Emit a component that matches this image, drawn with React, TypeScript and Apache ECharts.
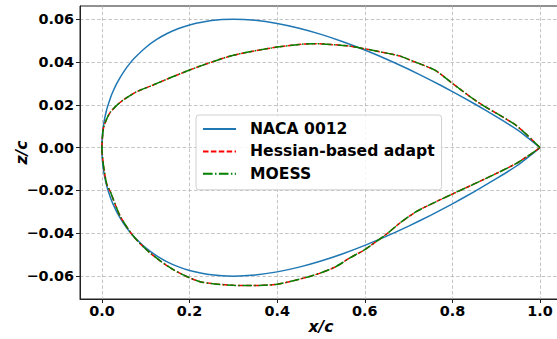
import React, { useEffect, useRef } from "react";
import * as echarts from "echarts";

// NACA 0012 half-thickness distribution (upper surface; lower is mirrored)
const nacaX = [0, 0.0001, 0.0005, 0.001, 0.0025, 0.005, 0.0075, 0.01, 0.0125, 0.02, 0.025, 0.035, 0.05, 0.0625, 0.075, 0.1, 0.125, 0.15, 0.175, 0.2, 0.25, 0.3, 0.35, 0.4, 0.45, 0.5, 0.55, 0.6, 0.65, 0.7, 0.75, 0.8, 0.85, 0.9, 0.95, 1.0];
const nacaZ = [0, 0.00178, 0.00395, 0.00556, 0.00872, 0.01221, 0.01485, 0.01704, 0.01894, 0.0236, 0.02615, 0.03043, 0.03555, 0.03903, 0.042, 0.04683, 0.05055, 0.05345, 0.05569, 0.05737, 0.05941, 0.06002, 0.05949, 0.05803, 0.05581, 0.05294, 0.04952, 0.04563, 0.04133, 0.03664, 0.0316, 0.02623, 0.02053, 0.01448, 0.00807, 0];

// Adapted shape, upper surface
const adaptUpperX = [0, 0.002, 0.004, 0.01, 0.019, 0.035, 0.05, 0.08, 0.11, 0.16, 0.22, 0.3, 0.4, 0.48, 0.56, 0.6, 0.64, 0.68, 0.71, 0.76, 0.8, 0.86, 0.94, 0.97, 1.0];
const adaptUpperZ = [0, 0.0067, 0.0095, 0.013, 0.0165, 0.02, 0.0225, 0.0262, 0.0287, 0.033, 0.0378, 0.0432, 0.047, 0.0486, 0.0476, 0.0462, 0.0446, 0.0428, 0.0404, 0.0362, 0.03, 0.021, 0.0112, 0.006, 0];

// Adapted shape, lower surface
const adaptLowerX = [0, 0.004, 0.011, 0.019, 0.042, 0.072, 0.11, 0.163, 0.224, 0.3, 0.34, 0.4, 0.48, 0.53, 0.566, 0.6, 0.65, 0.68, 0.718, 0.756, 0.794, 0.832, 0.87, 0.946, 1.0];
const adaptLowerZ = [0, -0.009, -0.017, -0.0205, -0.0321, -0.0414, -0.0492, -0.057, -0.0626, -0.0643, -0.0644, -0.0638, -0.0598, -0.056, -0.0515, -0.0476, -0.0403, -0.0352, -0.0298, -0.0259, -0.0222, -0.0186, -0.015, -0.0073, 0];

const xTicks = [0, 0.2, 0.4, 0.6, 0.8, 1.0];
const yTicks = [-0.06, -0.04, -0.02, 0, 0.02, 0.04, 0.06];
const seriesNames = ["NACA 0012", "Hessian-based adapt", "MOESS"];

// Trace trailing edge -> leading edge along the upper surface, then back along the lower one
function outline(ux: number[], uz: number[], lx: number[], lz: number[]): number[][] {
  const pts: number[][] = [];
  for (let i = ux.length - 1; i >= 0; i--) pts.push([ux[i], uz[i]]);
  for (let i = 1; i < lx.length; i++) pts.push([lx[i], lz[i]]);
  return pts;
}

const FONT = "DejaVu Sans";
const minus = (s: string) => s.replace("-", "\u2212");

export default function App() {
  const ref = useRef<HTMLDivElement>(null);

  useEffect(() => {
    if (!ref.current) return;
    const chart = echarts.init(ref.current, undefined, { renderer: "svg" });

    const nacaPts = outline(nacaX, nacaZ, nacaX, nacaZ.map((v) => -v));
    const adaptPts = outline(adaptUpperX, adaptUpperZ, adaptLowerX, adaptLowerZ);

    const gridLine = { show: true, lineStyle: { color: "#b5b5b5", width: 0.8, type: [3.5, 2.2] as any } };
    const titleFont = { fontFamily: FONT, fontSize: 15.6, fontWeight: "bold", fontStyle: "italic", color: "#000" };
    const tickFont = { fontFamily: FONT, fontSize: 14.4, fontWeight: "bold", color: "#000" };

    chart.setOption({
      animation: false,
      backgroundColor: "#ffffff",
      textStyle: { fontFamily: FONT },
      grid: {
        left: 80,
        top: 6,
        width: 482,
        height: 293,
        outerBoundsMode: "none",
        containLabel: false,
        show: true,
        borderColor: "#222",
        borderWidth: 1,
        backgroundColor: "transparent",
      },
      legend: {
        orient: "vertical",
        left: 196,
        top: 115,
        itemWidth: 33,
        itemHeight: 14,
        itemGap: 6.4,
        padding: [6, 7, 8, 6],
        borderColor: "#d0d0d0",
        borderWidth: 1,
        borderRadius: 3,
        backgroundColor: "rgba(255,255,255,0.85)",
        itemStyle: { opacity: 0 },
        textStyle: {
          fontFamily: FONT,
          fontSize: 15.6,
          fontWeight: "bold",
          color: "#000",
          lineHeight: 14,
          padding: [0, 0, 0, 9],
        },
        data: seriesNames,
      },
      xAxis: {
        type: "value",
        min: -0.05,
        max: 1.05,
        name: "x/c",
        nameLocation: "middle",
        nameGap: 20,
        nameMoveOverlap: false,
        nameTextStyle: titleFont,
        axisLine: { show: true, onZero: false, lineStyle: { color: "#222", width: 1 } },
        axisTick: { show: true, length: 4, customValues: xTicks, lineStyle: { color: "#222" } },
        axisLabel: {
          customValues: xTicks,
          margin: 5,
          ...tickFont,
          formatter: (v: number) => minus(v.toFixed(1)),
        },
        splitLine: gridLine,
      },
      yAxis: {
        type: "value",
        min: -0.0707,
        max: 0.0662,
        name: "z/c",
        nameLocation: "middle",
        nameGap: 50,
        nameMoveOverlap: false,
        nameTextStyle: titleFont,
        axisLine: { show: true, onZero: false, lineStyle: { color: "#222", width: 1 } },
        axisTick: { show: true, length: 4, customValues: yTicks, lineStyle: { color: "#222" } },
        axisLabel: {
          customValues: yTicks,
          margin: 6,
          ...tickFont,
          formatter: (v: number) => minus(v.toFixed(2)),
        },
        splitLine: gridLine,
      },
      series: [
        {
          name: seriesNames[0],
          type: "line",
          data: nacaPts,
          showSymbol: false,
          symbol: "none",
          smooth: 0.2,
          clip: false,
          lineStyle: { color: "#1f77b4", width: 1.5 },
          itemStyle: { color: "#1f77b4" },
        },
        {
          name: seriesNames[1],
          type: "line",
          data: adaptPts,
          showSymbol: false,
          symbol: "none",
          smooth: 0.25,
          clip: false,
          lineStyle: { color: "#ff0000", width: 1.5, type: [5.5, 2.4] },
          itemStyle: { color: "#ff0000" },
        },
        {
          name: seriesNames[2],
          type: "line",
          data: adaptPts,
          showSymbol: false,
          symbol: "none",
          smooth: 0.25,
          clip: false,
          lineStyle: { color: "#008000", width: 1.5, type: [9.6, 2.4, 1.5, 2.4] },
          itemStyle: { color: "#008000" },
        },
      ],
    });

    return () => chart.dispose();
  }, []);

  return (
    <div
      ref={ref}
      style={{ position: "fixed", left: 0, top: 0, width: 557, height: 339, background: "#fff" }}
    />
  );
}
